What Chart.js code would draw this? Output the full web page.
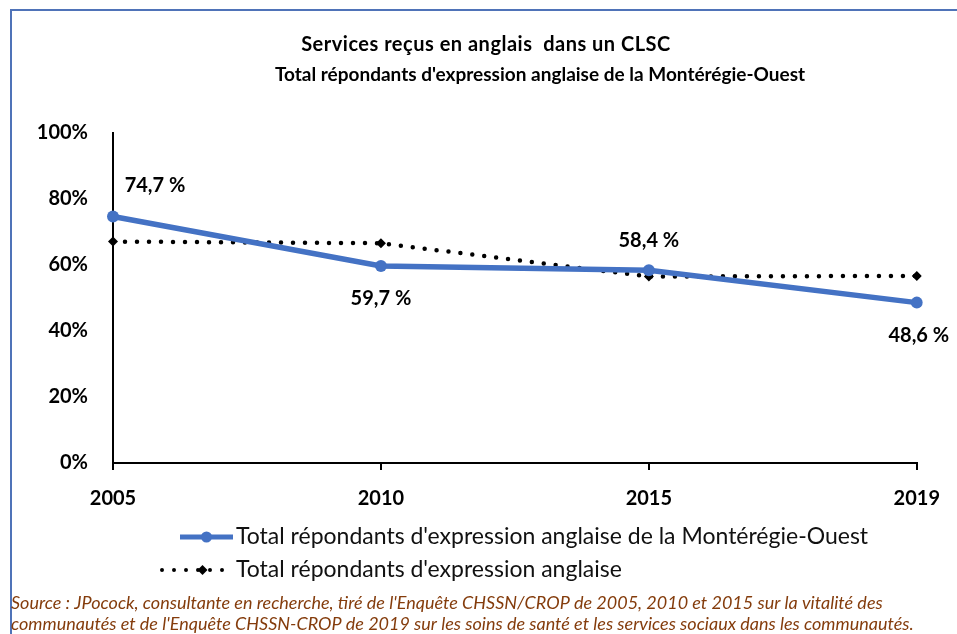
<!DOCTYPE html>
<html>
<head>
<meta charset="utf-8">
<script src="https://cdn.jsdelivr.net/npm/chart.js@4.4.1/dist/chart.umd.min.js"></script>
<style>
  html, body { margin: 0; padding: 0; background: #ffffff; }
  #wrap { position: relative; width: 957px; height: 634px; overflow: hidden; }
  canvas { display: block; }
</style>
</head>
<body>
<div id="wrap"><canvas id="c" width="957" height="634"></canvas></div>
<script>
// ---- data ----
const categories = ['2005', '2010', '2015', '2019'];
const monteregieOuest = [74.7, 59.7, 58.4, 48.6];
const totalAnglais = [67.1, 66.6, 56.5, 56.7];
const yTicks = [0, 20, 40, 60, 80, 100];
const titleLines = ["Services reçus en anglais  dans un CLSC", "Total répondants d'expression anglaise de la Montérégie-Ouest"];
const seriesNames = ["Total répondants d'expression anglaise de la Montérégie-Ouest", "Total répondants d'expression anglaise"];
const sourceLines = [
  "Source : JPocock, consultante en recherche, tiré de l'Enquête CHSSN/CROP de 2005, 2010 et 2015 sur la vitalité des",
  "communautés et de l'Enquête CHSSN-CROP de 2019 sur les soins de santé et les services sociaux dans les communautés."
];
const labelPlacement = ['aboveRight', 'below', 'above', 'below'];

const BLUE = '#4472C4';
const FONT = 'Lato, "Open Sans", sans-serif';

function fmt(v) { return v.toFixed(1).replace('.', ',') + ' %'; }

const decorPlugin = {
  id: 'decor',
  beforeDraw(chart) {
    const ctx = chart.ctx;
    ctx.save();
    ctx.fillStyle = '#fff';
    ctx.fillRect(0, 0, chart.width, chart.height);
    // frame
    ctx.strokeStyle = '#4F73B8';
    ctx.lineWidth = 2;
    ctx.beginPath();
    ctx.moveTo(11, 700);
    ctx.lineTo(11, 10);
    ctx.lineTo(1000, 10);
    ctx.stroke();
    // title
    ctx.fillStyle = '#000';
    ctx.textAlign = 'center';
    ctx.textBaseline = 'middle';
    ctx.font = 'bold 20px ' + FONT;
    if ('letterSpacing' in ctx) ctx.letterSpacing = '0.5px';
    ctx.fillText(titleLines[0], 486, 45);
    if ('letterSpacing' in ctx) ctx.letterSpacing = '0px';
    ctx.font = 'bold 19px ' + FONT;
    ctx.fillText(titleLines[1], 540, 75);
    ctx.restore();
  },
  afterDatasetsDraw(chart) {
    const ctx = chart.ctx;
    ctx.save();
    // data labels for first series
    const meta = chart.getDatasetMeta(0);
    ctx.font = 'bold 20px ' + FONT;
    ctx.fillStyle = '#000';
    ctx.textBaseline = 'middle';
    ctx.textAlign = 'center';
    meta.data.forEach((pt, i) => {
      const v = monteregieOuest[i];
      const p = labelPlacement[i];
      let x = pt.x, y = pt.y;
      if (p === 'aboveRight') { x += 42; y -= 31; }
      else if (p === 'above') { y -= 30; }
      else { y += 33; }
      if (i === monteregieOuest.length - 1) x += 2;
      ctx.fillText(fmt(v), x, y);
    });
    // legend
    const lx0 = 180, lx1 = 233;
    const ly1 = 537, ly2 = 570;
    ctx.strokeStyle = BLUE;
    ctx.lineWidth = 5;
    ctx.lineCap = 'butt';
    ctx.beginPath(); ctx.moveTo(lx0, ly1); ctx.lineTo(lx1, ly1); ctx.stroke();
    ctx.fillStyle = BLUE;
    ctx.beginPath(); ctx.arc((lx0 + lx1) / 2, ly1, 5.5, 0, Math.PI * 2); ctx.fill();
    ctx.strokeStyle = '#000';
    ctx.lineWidth = 4;
    ctx.lineCap = 'round';
    ctx.setLineDash([0, 12]);
    ctx.beginPath(); ctx.moveTo(162, ly2); ctx.lineTo(lx1, ly2); ctx.stroke();
    ctx.setLineDash([]);
    ctx.fillStyle = '#000';
    const cx = (lx0 + lx1) / 2 - 4;
    ctx.beginPath();
    ctx.moveTo(cx, ly2 - 5); ctx.lineTo(cx + 5, ly2); ctx.lineTo(cx, ly2 + 5); ctx.lineTo(cx - 5, ly2); ctx.closePath(); ctx.fill();
    ctx.font = '23px ' + FONT;
    ctx.textAlign = 'left';
    ctx.fillStyle = '#111';
    ctx.fillText(seriesNames[0], 236, ly1);
    ctx.fillText(seriesNames[1], 236, ly2);
    // source
    ctx.font = 'italic 18px ' + FONT;
    ctx.fillStyle = '#843C0C';
    ctx.fillText(sourceLines[0], 11, 603);
    ctx.fillText(sourceLines[1], 11, 624);
    ctx.restore();
  }
};

new Chart(document.getElementById('c'), {
  type: 'line',
  data: {
    labels: categories,
    datasets: [
      {
        label: seriesNames[0],
        data: monteregieOuest,
        borderColor: BLUE,
        backgroundColor: BLUE,
        borderWidth: 5.5,
        pointRadius: 6,
        pointHoverRadius: 6,
        pointBackgroundColor: BLUE,
        pointBorderWidth: 0,
        tension: 0,
        order: 0
      },
      {
        label: seriesNames[1],
        data: totalAnglais,
        borderColor: '#000',
        backgroundColor: '#000',
        borderWidth: 4.5,
        borderDash: [0, 12],
        borderCapStyle: 'round',
        pointStyle: 'rectRot',
        pointRadius: 5,
        pointBackgroundColor: '#000',
        pointBorderWidth: 0,
        tension: 0,
        order: 1
      }
    ]
  },
  options: {
    responsive: false,
    animation: false,
    events: [],
    layout: { padding: { left: 0, right: 38, top: 133, bottom: 121 } },
    plugins: {
      legend: { display: false },
      title: { display: false },
      tooltip: { enabled: false }
    },
    scales: {
      x: {
        offset: false,
        grid: { display: true, drawOnChartArea: false, drawTicks: true, tickLength: 7, color: '#000', lineWidth: 2 },
        border: { display: true, color: '#000', width: 2 },
        ticks: { color: '#000', font: { family: FONT, weight: 'bold', size: 20 }, padding: 17, maxRotation: 0, autoSkip: false },
        afterFit(scale) { scale.height = 50; }
      },
      y: {
        min: 0, max: 100,
        afterBuildTicks(scale) { scale.ticks = yTicks.map(v => ({ value: v })); },
        grid: { display: false, drawTicks: false },
        border: { display: true, color: '#000', width: 2 },
        ticks: { color: '#000', font: { family: FONT, weight: 'bold', size: 20 }, padding: 25, callback: v => v + '%' },
        afterFit(scale) { scale.width = 113; }
      }
    }
  },
  plugins: [decorPlugin]
});
</script>
</body>
</html>
